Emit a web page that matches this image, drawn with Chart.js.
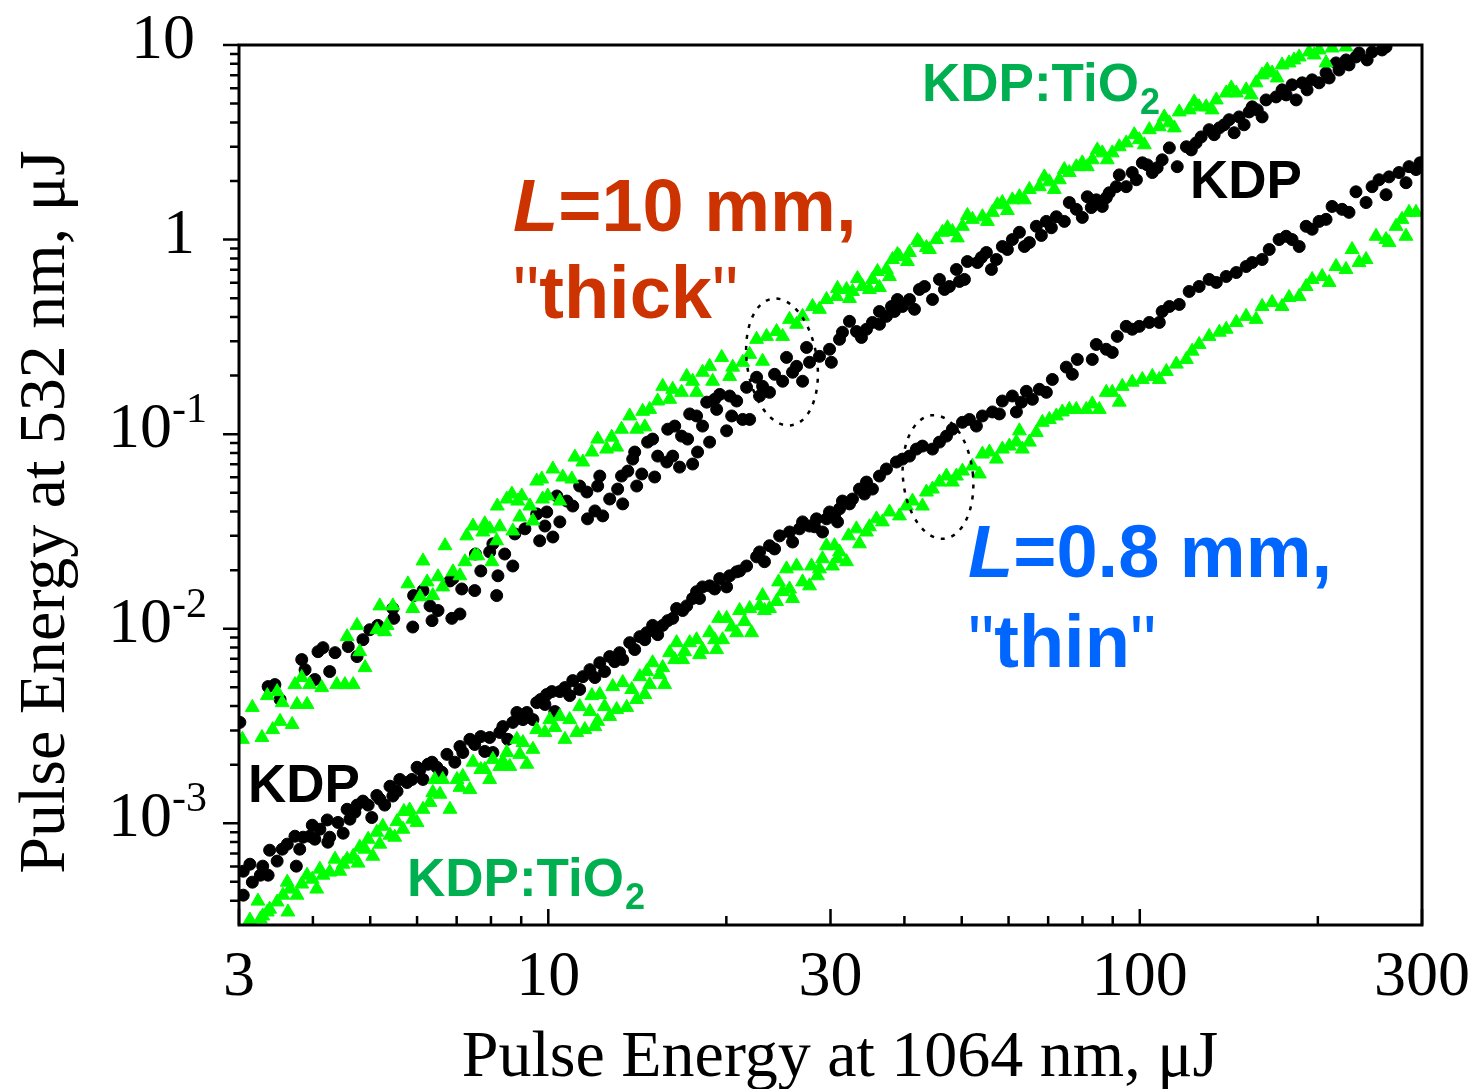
<!DOCTYPE html>
<html>
<head>
<meta charset="utf-8">
<script src="https://cdn.jsdelivr.net/npm/chart.js@4.4.1/dist/chart.umd.min.js"></script>
<style>
  html, body { margin: 0; padding: 0; background: #fff; }
  #wrap { width: 1476px; height: 1089px; position: relative; }
</style>
</head>
<body>
<div id="wrap"><canvas id="chart"></canvas></div>
<script>
// Points: [pulse energy at 1064 nm (uJ), pulse energy at 532 nm (uJ)]
const thickKdp = [
  [3.01,0.0033],[3.36,0.00504],[3.45,0.00516],[3.52,0.00433],[3.83,0.00694],[3.88,0.00616],[4.03,0.00548],[4.08,0.00762],
  [4.16,0.00799],[4.27,0.00602],[4.36,0.00753],[4.59,0.00809],[4.75,0.00719],[4.86,0.00878],[4.99,0.00988],[5.15,0.0104],
  [5.23,0.0099],[5.46,0.0127],[5.48,0.0113],[5.90,0.0102],[5.92,0.0148],[6.14,0.0157],[6.31,0.0131],[6.51,0.0124],
  [6.36,0.0110],[6.82,0.0176],[6.90,0.0181],[6.87,0.0113],[7.09,0.0119],[7.14,0.0160],[7.51,0.0157],[7.53,0.0242],
  [7.69,0.0198],[7.96,0.0248],[8.06,0.0273],[8.18,0.0148],[8.22,0.0187],[8.44,0.0242],[8.71,0.0210],[8.78,0.0307],
  [9.13,0.0326],[9.56,0.0389],[9.67,0.0283],[9.94,0.0398],[10.18,0.0296],[9.87,0.0337],[10.46,0.0354],[10.34,0.0481],
  [10.75,0.0453],[11.00,0.0427],[11.30,0.0541],[11.62,0.0504],[11.65,0.0367],[11.99,0.0403],[12.22,0.0609],[12.12,0.0541],
  [12.36,0.0380],[12.70,0.0464],[13.10,0.0522],[13.30,0.0609],[13.63,0.0646],[13.36,0.0438],[13.89,0.0744],[14.00,0.0809],
  [14.11,0.0541],[14.39,0.0624],[14.72,0.0910],[15.01,0.0943],[15.13,0.0602],[15.31,0.0771],[15.86,0.0719],[15.92,0.106],
  [16.36,0.110],[16.23,0.0771],[16.67,0.0677],[16.80,0.0977],[17.20,0.0943],[17.54,0.0702],[17.88,0.0809],[17.34,0.127],
  [17.81,0.124],[18.23,0.110],[18.74,0.0910],[18.53,0.146],[19.11,0.151],[19.26,0.134],[20.02,0.104],[19.49,0.160],
  [20.26,0.157],[20.42,0.124],[21.31,0.119],[20.82,0.148],[21.64,0.174],[21.90,0.119],[22.50,0.196],[23.03,0.176],
  [22.76,0.157],[23.66,0.164],[24.13,0.203],[25.28,0.248],[24.90,0.187],[25.88,0.208],[26.29,0.223],[26.91,0.187],
  [27.33,0.279],[27.65,0.234],[28.74,0.251],[29.89,0.273],[30.1,0.234],[31.07,0.307],[31.43,0.334],[33.19,0.337],
  [34.51,0.346],[35.32,0.375],[36.30,0.427],[37.30,0.403],[38.04,0.453],[38.48,0.427],[39.70,0.453],[40.80,0.492],
  [42.41,0.554],[43.25,0.574],[44.62,0.492],[45.85,0.624],[47.66,0.574],[48.98,0.702],[50.53,0.624],[51.12,0.771],
  [53.15,0.762],[55.04,0.858],[57.23,0.790],[58.57,0.921],[60.90,1.00],[62.59,1.09],[65.07,0.965],[66.86,1.17],
  [69.51,1.24],[72.27,1.31],[76.01,1.55],[78.11,1.43],[79.95,1.30],[81.52,1.66],[84.43,1.60],[86.42,1.48],
  [88.80,1.74],[91.25,1.87],[92.33,2.15],[94.87,1.87],[97.11,2.21],[101.0,2.48],[105.0,2.21],[109.1,2.57],
  [112.2,2.96],[115.7,2.37],[119.9,3.00],[124.5,3.14],[127.0,3.37],[131.0,3.67],[136.3,3.75],[141.6,4.13],
  [144.4,3.54],[147.2,4.27],[153.1,4.53],[154.9,4.81],[161.0,4.27],[163.5,5.22],[170.0,5.41],[174.0,5.88],
  [180.9,6.24],[183.8,5.22],[188.2,6.39],[195.6,6.62],[201.0,6.39],[206.5,7.19],[217.2,7.44],[214.7,8.09],
  [223.2,8.38],[232.0,8.68],[234.8,9.10],[247.0,9.21],[256.8,9.43],[260.8,9.77],
  // dense part of the band
  [32.30,0.380],[33.84,0.314],[36.30,0.367],[38.93,0.492],[41.60,0.438],[46.75,0.554],[49.56,0.609],[53.98,0.809],
  [56.13,0.702],[59.73,0.889],[63.82,0.921],[68.17,1.05],[70.88,1.15],[74.55,1.24],[82.80,1.46],[87.77,1.64],
  [98.7,2.03],[103.0,2.42],[107.0,2.34],[122.2,2.89],[133.6,3.46],[138.9,3.89],[150.1,3.89],[158.0,4.64],
  [176.8,5.54],[191.8,5.88],[209.0,6.77],[225.8,7.90],[242.3,8.38]
];

const thickKdpTiO2 = [
  [3.04,0.00270],[3.16,0.00394],[3.28,0.00276],[3.35,0.00453],[3.48,0.00475],[3.42,0.00303],[3.52,0.00334],[3.55,0.00417],
  [3.69,0.00322],[3.73,0.00516],[3.83,0.00561],[3.76,0.00408],[3.91,0.00408],[3.95,0.00516],[4.14,0.00498],[4.39,0.00516],
  [4.53,0.00516],[4.68,0.00516],[4.57,0.00910],[4.75,0.0104],[4.80,0.00762],[4.90,0.00631],[5.13,0.00988],[5.29,0.00965],
  [5.19,0.0131],[5.34,0.0104],[5.46,0.0131],[5.79,0.0170],[5.90,0.0127],[6.07,0.0146],[6.24,0.0174],[6.14,0.0223],
  [6.38,0.0148],[6.51,0.0185],[6.63,0.0164],[6.69,0.0267],[6.90,0.0196],[7.09,0.0187],[7.23,0.0221],[7.28,0.0300],
  [7.51,0.0237],[7.60,0.0237],[7.46,0.0337],[7.75,0.0314],[7.81,0.0346],[7.96,0.0326],[8.03,0.0221],[8.18,0.0283],
  [8.28,0.0334],[8.20,0.0427],[8.51,0.0464],[8.68,0.0492],[9.02,0.0481],[8.71,0.0318],[8.88,0.0453],[8.95,0.0375],
  [9.31,0.0427],[9.42,0.0358],[9.56,0.0574],[9.75,0.0588],[9.78,0.0464],[9.98,0.0481],[10.18,0.0662],[10.46,0.0453],
  [10.58,0.0602],[10.96,0.0588],[11.09,0.0762],[11.44,0.0719],[11.85,0.0809],[12.12,0.0943],[12.55,0.0838],[12.80,0.0965],
  [13.05,0.0858],[13.30,0.106],[13.73,0.124],[14.11,0.106],[14.56,0.109],[14.44,0.131],[14.84,0.134],[15.31,0.148],
  [15.61,0.176],[16.04,0.151],[16.23,0.170],[16.80,0.164],[17.14,0.198],[17.54,0.187],[17.81,0.164],[18.23,0.208],
  [18.74,0.223],[18.96,0.187],[19.64,0.248],[20.26,0.198],[20.50,0.221],[21.31,0.234],[21.90,0.257],[22.50,0.307],
  [23.03,0.237],[23.39,0.318],[24.32,0.337],[24.90,0.318],[25.58,0.389],[26.29,0.367],[26.91,0.403],[27.97,0.453],
  [28.74,0.438],[29.54,0.492],[30.71,0.510],[31.93,0.554],[32.68,0.541],[33.97,0.574],[35.32,0.624],[36.30,0.567],
  [37.30,0.702],[38.19,0.790],[39.24,0.818],[40.80,0.858],[42.41,0.965],[43.58,0.910],[45.32,1.00],[46.39,1.09],
  [48.22,1.10],[50.14,1.17],[52.12,1.27],[54.19,1.31],[56.35,1.38],[58.57,1.55],[60.90,1.60],[62.59,1.66],
  [65.07,1.81],[67.65,1.87],[70.32,1.98],[73.11,2.03],[76.01,2.21],[78.11,2.37],[79.95,2.48],[83.12,2.57],
  [86.42,2.79],[89.85,2.79],[92.33,3.00],[94.87,3.14],[99.81,3.26],[103.8,3.67],[107.9,3.80],[112.2,3.98],
  [116.6,4.53],[121.2,4.64],[126.0,4.81],[129.5,4.81],[134.7,5.22],[140.0,5.67],[145.6,5.67],[151.3,5.88],
  [157.3,6.39],[161.0,7.02],[167.4,7.19],[174.0,7.90],[178.8,8.09],[186.0,8.68],[193.3,9.21],[201.0,9.43],
  [206.5,8.09],[211.4,9.65],[223.2,9.77],
  // dense part of the band
  [30.83,0.561],[32.30,0.498],[33.32,0.631],[34.91,0.554],[36.02,0.685],[37.74,0.646],[38.93,0.838],[40.48,0.771],
  [42.09,0.988],[44.10,0.889],[47.30,1.15],[49.17,1.02],[51.12,1.33],[55.26,1.24],[57.45,1.51],[59.73,1.41],
  [63.82,1.60],[68.98,2.10],[71.71,1.81],[74.55,2.29],[81.52,2.37],[84.76,2.89],[88.12,2.57],[97.87,3.46],
  [101.8,3.07],[110.0,4.27],[114.4,3.75],[123.6,5.10],[132.5,4.64],[142.8,6.02],[154.3,5.54],[164.2,7.44],
  [170.7,6.77],[182.3,8.38],[197.1,8.89]
];

const thinKdp = [
  [3.05,0.000567],[3.05,0.000427],[3.16,0.000498],[3.26,0.000541],[3.29,0.000602],[3.36,0.000541],[3.38,0.000727],[3.48,0.000639],
  [3.62,0.000781],[3.73,0.000858],[3.75,0.000602],[3.80,0.000736],[3.85,0.000848],[3.95,0.000858],[4.03,0.000828],[4.11,0.000932],
  [4.23,0.00104],[4.24,0.000799],[4.27,0.000848],[4.41,0.00101],[4.50,0.000889],[4.57,0.00118],[4.71,0.00114],[4.75,0.00124],
  [4.86,0.00130],[4.96,0.00124],[5.03,0.00107],[5.13,0.00139],[5.29,0.00124],[5.40,0.00155],[5.46,0.00138],[5.55,0.00146],
  [5.61,0.00168],[5.77,0.00162],[6.00,0.00194],[6.07,0.00189],[6.14,0.00168],[6.26,0.00201],[6.36,0.00206],[6.61,0.00183],
  [6.74,0.00226],[7.09,0.00248],[7.17,0.00231],[7.37,0.00270],[7.69,0.00279],[7.96,0.00276],[8.06,0.00231],[8.38,0.00314],
  [8.71,0.00330],[8.85,0.00371],[9.20,0.00371],[9.42,0.00341],[9.56,0.00417],[9.71,0.00433],[9.94,0.00459],[10.14,0.00475],
  [10.46,0.00475],[10.87,0.00453],[11.00,0.00541],[11.44,0.00567],[11.76,0.00616],[12.22,0.00669],[12.70,0.00719],[13.20,0.00753],
  [13.36,0.00694],[13.73,0.00848],[14.28,0.00910],[14.67,0.00954],[15.01,0.0104],[15.61,0.0104],[16.23,0.0113],[16.48,0.0127],
  [17.14,0.0131],[17.54,0.0143],[17.81,0.0155],[18.23,0.0164],[18.74,0.0166],[19.49,0.0181],[20.26,0.0187],[20.82,0.0196],
  [21.64,0.0210],[22.50,0.0234],[22.76,0.0248],[23.66,0.0267],[24.61,0.0300],[25.58,0.0314],[25.88,0.0279],[26.91,0.0354],
  [27.65,0.0337],[28.41,0.0367],[29.08,0.0314],[29.89,0.0398],[30.47,0.0380],[31.07,0.0413],[31.43,0.0453],[30.83,0.0354],
  [32.68,0.0464],[33.58,0.0522],[34.51,0.0567],[35.32,0.0522],[36.30,0.0609],[37.30,0.0662],[38.78,0.0719],[39.70,0.0744],
  [40.80,0.0771],[41.92,0.0838],[42.91,0.0868],[44.62,0.0838],[45.85,0.0910],[47.12,0.0977],[48.22,0.106],[50.14,0.115],
  [51.52,0.119],[52.94,0.110],[54.19,0.124],[56.35,0.130],[57.89,0.127],[58.57,0.148],[60.90,0.157],[61.86,0.130],
  [63.07,0.146],[64.31,0.166],[65.83,0.151],[67.65,0.170],[69.51,0.164],[71.15,0.191],[75.13,0.221],[76.91,0.203],
  [78.42,0.242],[83.12,0.242],[84.43,0.289],[87.77,0.273],[89.85,0.263],[91.61,0.318],[94.87,0.358],[97.11,0.346],
  [99.81,0.358],[103.8,0.375],[107.9,0.375],[109.1,0.427],[112.2,0.453],[116.6,0.464],[121.2,0.541],[126.0,0.574],
  [131.0,0.624],[134.7,0.602],[140.0,0.646],[145.6,0.677],[151.3,0.727],[154.9,0.762],[161.0,0.790],[165.5,0.889],
  [172.0,1.00],[176.8,1.04],[180.9,1.00],[186.0,0.921],[191.1,1.17],[195.6,1.13],[201.0,1.24],[206.5,1.27],
  [211.4,1.48],[219.8,1.43],[225.8,1.38],[232.0,1.76],[241.3,1.55],[247.0,1.87],[253.8,2.03],[260.8,1.70],
  [263.9,2.10],[274.3,2.21],[281.9,1.96],[285.2,2.37],[293.1,2.29],[297.7,2.48],
  // dense part of the band
  [3.13,0.000616],[3.55,0.000736],[3.99,0.000977],[4.62,0.00105],[5.19,0.00133],[5.88,0.00168],[6.48,0.00194],[6.95,0.00206],
  [7.51,0.00254],[7.81,0.00234],[8.28,0.00293],[8.54,0.00270],[9.06,0.00341],[9.87,0.00408],[10.26,0.00375],[10.67,0.00498],
  [11.30,0.00487],[11.99,0.00561],[12.45,0.00602],[12.95,0.00677],[14.00,0.00781],[14.56,0.00878],[15.31,0.00932],[15.92,0.0110],
  [16.87,0.0124],[18.02,0.0143],[19.11,0.0160],[20.02,0.0164],[21.06,0.0198],[23.20,0.0221],[24.13,0.0257],[26.59,0.0326],
  [28.19,0.0334],[29.54,0.0367],[32.30,0.0438],[34.24,0.0492]
];

const thinKdpTiO2 = [
  [3.13,0.000318],[3.23,0.000398],[3.26,0.000322],[3.29,0.000334],[3.35,0.000350],[3.38,0.000362],[3.48,0.000394],[3.56,0.000427],
  [3.63,0.000350],[3.62,0.000498],[3.66,0.000459],[3.76,0.000427],[3.91,0.000541],[3.99,0.000516],[4.06,0.000459],[4.16,0.000541],
  [4.27,0.000561],[4.36,0.000654],[4.50,0.000616],[4.57,0.000654],[4.68,0.000677],[4.77,0.000624],[4.90,0.000736],[4.96,0.000828],
  [5.05,0.000677],[5.13,0.000899],[5.25,0.000965],[5.40,0.000868],[5.55,0.00102],[5.68,0.000932],[5.70,0.00115],[5.83,0.00117],
  [6.00,0.00101],[6.14,0.00118],[6.31,0.00128],[6.43,0.00168],[6.38,0.00144],[6.63,0.00168],[6.82,0.00118],[7.01,0.00168],
  [7.17,0.00174],[7.37,0.00149],[7.46,0.00206],[7.69,0.00189],[7.96,0.00168],[8.06,0.00213],[8.28,0.00196],[8.51,0.00231],
  [8.61,0.00196],[8.85,0.00270],[9.06,0.00260],[9.42,0.00240],[9.56,0.00303],[9.87,0.00293],[10.06,0.00341],[10.46,0.00354],
  [10.87,0.00341],[11.17,0.00293],[11.30,0.00398],[11.53,0.00303],[11.85,0.00453],[11.99,0.00314],[12.22,0.00459],[12.45,0.00398],
  [12.70,0.00354],[12.85,0.00504],[13.05,0.00384],[13.36,0.00529],[13.57,0.00394],[14.11,0.00433],[14.28,0.00567],[14.67,0.00602],
  [14.84,0.00516],[15.01,0.00669],[15.61,0.00631],[15.73,0.00516],[16.04,0.00753],[16.48,0.00848],[16.87,0.00694],[17.34,0.00848],
  [17.81,0.00878],[18.23,0.00781],[18.74,0.00954],[19.26,0.00781],[19.71,0.00878],[19.41,0.0113],[20.02,0.0113],[20.82,0.00954],
  [21.06,0.0124],[21.90,0.0127],[22.07,0.00954],[22.76,0.0131],[23.03,0.0148],[23.66,0.0127],[24.32,0.0138],[24.51,0.0174],
  [24.90,0.0155],[25.88,0.0143],[25.28,0.0203],[26.29,0.0210],[26.91,0.0174],[27.65,0.0166],[27.86,0.0210],[28.74,0.0203],
  [29.08,0.0229],[29.54,0.0267],[30.23,0.0210],[31.07,0.0248],[31.93,0.0221],[30.47,0.0267],[32.18,0.0300],[33.19,0.0326],
  [34.51,0.0314],[35.88,0.0367],[36.72,0.0354],[37.74,0.0398],[39.24,0.0380],[40.32,0.0427],[41.28,0.0453],[42.91,0.0427],
  [43.58,0.0504],[44.62,0.0522],[45.85,0.0567],[47.12,0.0609],[48.22,0.0567],[48.98,0.0609],[50.14,0.0646],[52.12,0.0685],
  [53.56,0.0624],[54.19,0.0790],[55.69,0.0809],[57.23,0.0744],[58.57,0.0838],[60.19,0.0868],[61.86,0.0910],[63.32,0.0838],
  [62.59,0.104],[65.07,0.0910],[66.86,0.102],[68.44,0.115],[70.32,0.119],[72.27,0.124],[73.97,0.130],[76.01,0.134],
  [78.11,0.134],[81.20,0.134],[83.12,0.143],[85.42,0.134],[87.77,0.164],[89.85,0.164],[92.33,0.146],[93.41,0.176],
  [97.11,0.185],[101.0,0.191],[105.0,0.198],[107.9,0.191],[110.9,0.210],[115.3,0.229],[119.9,0.242],[122.6,0.267],
  [126.0,0.289],[131.0,0.318],[136.3,0.334],[140.0,0.346],[145.6,0.375],[151.3,0.403],[157.3,0.389],[161.0,0.453],
  [167.4,0.475],[174.0,0.453],[178.8,0.504],[186.0,0.510],[191.1,0.574],[195.6,0.624],[203.4,0.646],[209.0,0.602],
  [214.7,0.727],[223.2,0.702],[228.5,0.889],[234.8,0.762],[241.3,0.790],[250.9,1.04],[260.8,1.00],[263.9,0.965],
  [271.2,1.17],[277.5,1.27],[281.9,1.04],[285.2,1.38],[293.1,1.38],
  // dense part of the band
  [3.83,0.000487],[4.11,0.000581],[4.44,0.000567],[4.80,0.000753],[5.19,0.000781],[5.50,0.000848],[5.90,0.00105],[6.56,0.00141],
  [7.09,0.00153],[7.81,0.00189],[8.38,0.00208],[8.95,0.00226],[9.20,0.00201],[10.26,0.00311],[10.67,0.00270],[11.76,0.00375],
  [12.12,0.00334],[13.84,0.00487],[14.56,0.00459],[15.43,0.00581],[16.36,0.00694],[17.00,0.00762],[18.02,0.00736],[19.11,0.00878],
  [20.42,0.0102],[21.47,0.0109],[23.20,0.0124],[25.58,0.0160],[28.52,0.0187],[30.83,0.0229],[33.58,0.0273],[34.91,0.0334]
];

// Axis ticks
const xTickValues = [3, 10, 30, 100, 300];
const xTickLabels = ['3', '10', '30', '100', '300'];
const xMinorTicks = [4, 5, 6, 7, 8, 9, 20, 40, 50, 60, 70, 80, 90, 200];
const yTickValues = [0.001, 0.01, 0.1, 1, 10];
const yTickLabels = [['10', '-3'], ['10', '-2'], ['10', '-1'], ['1', ''], ['10', '']];
const yMinorTicks = [
  0.0004, 0.0005, 0.0006, 0.0007, 0.0008, 0.0009,
  0.002, 0.003, 0.004, 0.005, 0.006, 0.007, 0.008, 0.009,
  0.02, 0.03, 0.04, 0.05, 0.06, 0.07, 0.08, 0.09,
  0.2, 0.3, 0.4, 0.5, 0.6, 0.7, 0.8, 0.9,
  2, 3, 4, 5, 6, 7, 8, 9
];

const serif = '"Liberation Serif", "Times New Roman", serif';
const sans = '"Liberation Sans", Arial, sans-serif';

function toXY(arr) {
  return arr.map(p => ({ x: p[0], y: p[1] }));
}

function drawSplitLabel(ctx, x, y, italicPart, rest, size) {
  ctx.font = 'italic bold ' + size + 'px ' + sans;
  ctx.fillText(italicPart, x, y);
  const w = ctx.measureText(italicPart).width;
  ctx.font = 'bold ' + size + 'px ' + sans;
  ctx.fillText(rest, x + w, y);
}

// quoted word: thin straight quotes around a bold word
function drawQuoted(ctx, x, y, word, size) {
  ctx.font = size + 'px ' + sans;
  ctx.fillText('"', x, y);
  let cx = x + ctx.measureText('"').width;
  ctx.font = 'bold ' + size + 'px ' + sans;
  ctx.fillText(word, cx, y);
  cx += ctx.measureText(word).width;
  ctx.font = size + 'px ' + sans;
  ctx.fillText('"', cx, y);
}

function drawTiO2(ctx, x, y) {
  ctx.fillStyle = '#00b050';
  ctx.font = 'bold 53px ' + sans;
  ctx.fillText('KDP:TiO', x, y);
  const w = ctx.measureText('KDP:TiO').width;
  ctx.font = 'bold 36px ' + sans;
  ctx.fillText('2', x + w + 1, y + 13);
}

function dottedEllipse(ctx, cx, cy, rx, ry, rot) {
  ctx.save();
  ctx.setLineDash([4, 7]);
  ctx.lineWidth = 2.5;
  ctx.strokeStyle = '#000';
  ctx.beginPath();
  ctx.ellipse(cx, cy, rx, ry, rot, 0, Math.PI * 2);
  ctx.stroke();
  ctx.restore();
}

// Frame, tick marks, tick labels, axis titles and the text notes
const frameAndNotes = {
  id: 'frameAndNotes',
  afterDatasetsDraw(chart) {
    const { ctx, chartArea: a, scales: { x, y } } = chart;
    ctx.save();
    ctx.strokeStyle = '#000';
    ctx.fillStyle = '#000';

    // tick marks
    ctx.lineWidth = 2.5;
    ctx.beginPath();
    xMinorTicks.forEach(v => {
      const px = x.getPixelForValue(v);
      ctx.moveTo(px, a.bottom); ctx.lineTo(px, a.bottom - 9);
    });
    xTickValues.forEach(v => {
      const px = x.getPixelForValue(v);
      ctx.moveTo(px, a.bottom); ctx.lineTo(px, a.bottom - 16);
    });
    yMinorTicks.forEach(v => {
      const py = y.getPixelForValue(v);
      ctx.moveTo(a.left, py); ctx.lineTo(a.left - 9, py);
    });
    yTickValues.forEach(v => {
      const py = y.getPixelForValue(v);
      ctx.moveTo(a.left, py); ctx.lineTo(a.left - 16, py);
    });
    ctx.stroke();

    // frame
    ctx.lineWidth = 3;
    ctx.strokeRect(a.left, a.top, a.right - a.left, a.bottom - a.top);

    // x tick labels
    ctx.font = '64px ' + serif;
    ctx.textAlign = 'center';
    ctx.textBaseline = 'alphabetic';
    xTickValues.forEach((v, i) => {
      ctx.fillText(xTickLabels[i], x.getPixelForValue(v), a.bottom + 70);
    });

    // y tick labels with superscript exponents
    ctx.textAlign = 'left';
    yTickValues.forEach((v, i) => {
      const py = y.getPixelForValue(v);
      const [base, sup] = yTickLabels[i];
      if (!sup) {
        ctx.font = '64px ' + serif;
        const w = ctx.measureText(base).width;
        ctx.fillText(base, 195 - w, py + 13);
      } else {
        ctx.font = '42px ' + serif;
        const sw = ctx.measureText(sup).width;
        ctx.fillText(sup, 207 - sw, py - 12);
        ctx.font = '64px ' + serif;
        const bw = ctx.measureText(base).width;
        ctx.fillText(base, 207 - sw - bw, py + 13);
      }
    });

    // axis titles
    ctx.font = '66px ' + serif;
    ctx.textAlign = 'center';
    ctx.fillText('Pulse Energy at 1064 nm, \u03bcJ', 840, 1076);
    ctx.save();
    ctx.translate(64, 512);
    ctx.rotate(-Math.PI / 2);
    ctx.fillText('Pulse Energy at 532 nm, \u03bcJ', 0, 0);
    ctx.restore();

    // notes
    ctx.textAlign = 'left';
    ctx.fillStyle = '#cc3300';
    drawSplitLabel(ctx, 513, 231, 'L', '=10 mm,', 74);
    drawQuoted(ctx, 513, 318, 'thick', 74);

    ctx.fillStyle = '#0066ff';
    drawSplitLabel(ctx, 968, 577, 'L', '=0.8 mm,', 74);
    drawQuoted(ctx, 968, 667, 'thin', 74);

    drawTiO2(ctx, 922, 101);
    drawTiO2(ctx, 407, 896);

    ctx.fillStyle = '#000';
    ctx.font = 'bold 53px ' + sans;
    ctx.fillText('KDP', 1190, 198);
    ctx.fillText('KDP', 248, 802);

    dottedEllipse(ctx, 782, 362, 35, 64, -0.15);
    dottedEllipse(ctx, 938, 477, 35, 62, -0.1);

    ctx.restore();
  }
};

const ctx = document.getElementById('chart');
new Chart(ctx, {
  type: 'scatter',
  data: {
    datasets: [
      {
        label: 'KDP:TiO2 thick',
        data: toXY(thickKdpTiO2),
        pointStyle: 'triangle',
        pointRadius: 8,
        backgroundColor: '#00ff00',
        borderColor: '#00ff00',
        borderWidth: 1
      },
      {
        label: 'KDP:TiO2 thin',
        data: toXY(thinKdpTiO2),
        pointStyle: 'triangle',
        pointRadius: 8,
        backgroundColor: '#00ff00',
        borderColor: '#00ff00',
        borderWidth: 1
      },
      {
        label: 'KDP thick',
        data: toXY(thickKdp),
        pointStyle: 'circle',
        pointRadius: 6,
        backgroundColor: '#000',
        borderColor: '#000',
        borderWidth: 1
      },
      {
        label: 'KDP thin',
        data: toXY(thinKdp),
        pointStyle: 'circle',
        pointRadius: 6,
        backgroundColor: '#000',
        borderColor: '#000',
        borderWidth: 1
      }
    ]
  },
  options: {
    responsive: true,
    maintainAspectRatio: false,
    animation: false,
    events: [],
    layout: {
      padding: { left: 0, top: 45, right: 54, bottom: 0 }
    },
    plugins: {
      legend: { display: false },
      tooltip: { enabled: false }
    },
    scales: {
      x: {
        type: 'logarithmic',
        min: 3,
        max: 300,
        grid: { display: false },
        border: { display: false },
        ticks: { display: false },
        afterFit(scale) { scale.height = 164; }
      },
      y: {
        type: 'logarithmic',
        min: 0.0003,
        max: 10,
        grid: { display: false },
        border: { display: false },
        ticks: { display: false },
        afterFit(scale) { scale.width = 239; }
      }
    }
  },
  plugins: [frameAndNotes]
});
</script>
</body>
</html>
